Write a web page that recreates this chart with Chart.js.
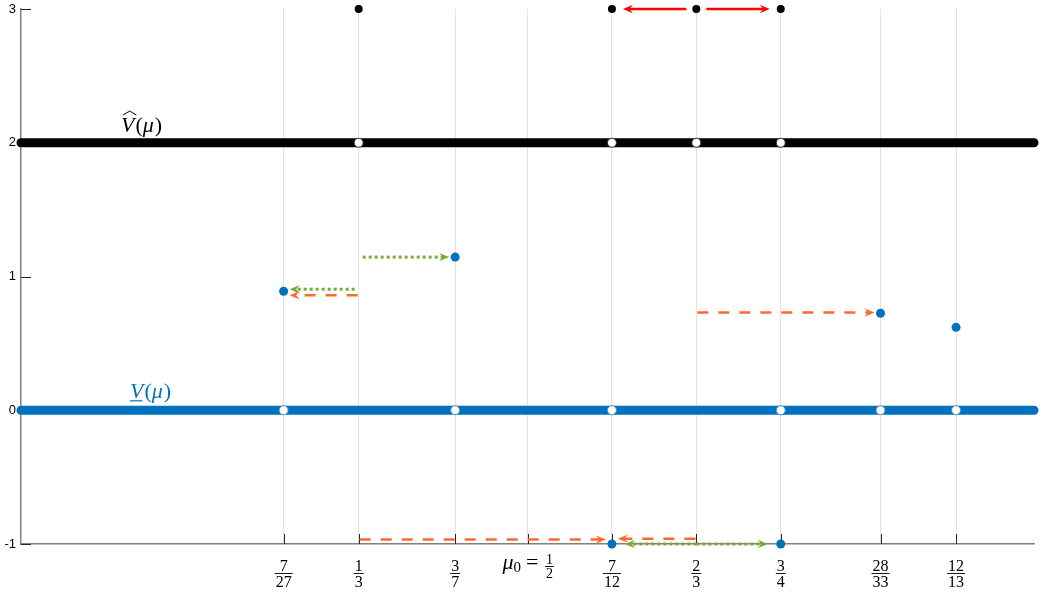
<!DOCTYPE html>
<html lang="en">
<head>
  <meta charset="UTF-8" />
  <title>V hat / V underline</title>
  <script src="https://cdn.jsdelivr.net/npm/chart.js"></script>
  <style>
    body { margin: 0; background: #fff; }
    canvas { display: block; }
  </style>
</head>
<body>
  <canvas id="chart" width="1042" height="594"></canvas>

  <script>
    // --- data ---
    const xTickValues = [7/27, 1/3, 3/7, 1/2, 7/12, 2/3, 3/4, 28/33, 12/13];
    const xTickNum = ["7", "1", "3", "1", "7", "2", "3", "28", "12"];
    const xTickDen = ["27", "3", "7", "2", "12", "3", "4", "33", "13"];
    const xTickPrefix = ["", "", "", "μ0", "", "", "", "", ""];
    const yTickValues = [-1, 0, 1, 2, 3];

    const hatLevel = 2;
    const lowLevel = 0;
    const hatOpenX = [1/3, 7/12, 2/3, 3/4];
    const hatDotX = [1/3, 7/12, 2/3, 3/4];
    const hatDotY = [3, 3, 3, 3];
    const lowOpenX = [7/27, 3/7, 7/12, 3/4, 28/33, 12/13];
    const lowDotX = [7/27, 3/7, 28/33, 12/13, 7/12, 3/4];
    const lowDotY = [0.89, 1.145, 0.725, 0.62, -1, -1];

    // arrows: from -> to at height y
    const arrowFrom = [2/3, 2/3, 1/3, 1/3, 1/3, 2/3, 1/3, 2/3, 2/3, 2/3];
    const arrowTo   = [7/12, 3/4, 3/7, 7/27, 7/27, 28/33, 7/12, 7/12, 7/12, 3/4];
    const arrowY    = [3, 3, 1.145, 0.905, 0.86, 0.73, -0.967, -0.96, -1, -1];
    const arrowKind = ["red", "red", "dotted", "dotted", "dashed", "dashed", "dashed", "dashed", "dottedMid", "dottedMid"];

    const BLACK = "#000000";
    const BLUE = "#0072bd";

    const arrowStyles = {
      red:       { color: "#ff0000", dash: [], width: 2.5, gap0: 10, gap1: 11 },
      dashed:    { color: "#ff6a2c", dash: [11, 10], width: 2.5, gap0: 1, gap1: 6 },
      dotted:    { color: "#77ac30", dash: [3, 3], width: 3, gap0: 4, gap1: 6 },
      dottedMid: { color: "#77ac30", dash: [3, 3], width: 3, gap0: 0, gap1: 13 }
    };

    const pts = (xs, ys) => xs.map((x, i) => ({ x: x, y: Array.isArray(ys) ? ys[i] : ys }));

    // inward tick marks
    const inwardTicks = {
      id: "inwardTicks",
      beforeDatasetsDraw(chart) {
        const { ctx, chartArea: a, scales: { x, y } } = chart;
        ctx.save();
        ctx.strokeStyle = "#262626";
        ctx.lineWidth = 1;
        ctx.beginPath();
        yTickValues.forEach(v => {
          const py = Math.round(y.getPixelForValue(v)) + 0.5;
          ctx.moveTo(a.left, py);
          ctx.lineTo(a.left + 10, py);
        });
        xTickValues.forEach(v => {
          const px = Math.round(x.getPixelForValue(v)) + 0.5;
          ctx.moveTo(px, a.bottom);
          ctx.lineTo(px, a.bottom - 10);
        });
        ctx.stroke();
        ctx.restore();
      }
    };

    function drawHead(ctx, tx, ty, dir, color) {
      const L = 10, H = 4.2, N = 6.5;
      ctx.fillStyle = color;
      ctx.beginPath();
      ctx.moveTo(tx, ty);
      ctx.lineTo(tx - dir * L, ty - H);
      ctx.lineTo(tx - dir * N, ty);
      ctx.lineTo(tx - dir * L, ty + H);
      ctx.closePath();
      ctx.fill();
    }

    // arrows between points
    const arrows = {
      id: "arrows",
      afterDatasetsDraw(chart) {
        const { ctx, scales: { x, y } } = chart;
        ctx.save();
        arrowFrom.forEach((f, i) => {
          const st = arrowStyles[arrowKind[i]];
          const x0 = x.getPixelForValue(f);
          const x1 = x.getPixelForValue(arrowTo[i]);
          const py = y.getPixelForValue(arrowY[i]);
          const dir = x1 > x0 ? 1 : -1;
          const sx = x0 + dir * st.gap0;
          const tx = x1 - dir * st.gap1;
          ctx.strokeStyle = st.color;
          ctx.lineWidth = st.width;
          ctx.setLineDash(st.dash);
          ctx.beginPath();
          ctx.moveTo(sx, py);
          ctx.lineTo(tx - dir * 6, py);
          ctx.stroke();
          ctx.setLineDash([]);
          drawHead(ctx, tx, py, dir, st.color);
        });
        ctx.restore();
      }
    };

    function drawFrac(ctx, cx, numBase, num, den, size) {
      ctx.font = size + "px 'Liberation Serif'";
      ctx.textAlign = "center";
      ctx.textBaseline = "alphabetic";
      const w = Math.max(ctx.measureText(num).width, ctx.measureText(den).width);
      ctx.fillText(num, cx, numBase);
      ctx.fillRect(cx - w / 2 - 1, numBase + 2, w + 2, 0.9);
      ctx.fillText(den, cx, numBase + size);
    }

    // fraction tick labels and series labels
    const texts = {
      id: "texts",
      afterDraw(chart) {
        const { ctx, scales: { x, y } } = chart;
        ctx.save();
        ctx.fillStyle = "#000";
        xTickValues.forEach((v, i) => {
          const px = x.getPixelForValue(v);
          if (!xTickPrefix[i]) {
            drawFrac(ctx, px, 571, xTickNum[i], xTickDen[i], 16);
          } else {
            // mu_0 = 1/2
            let cx = px - 25;
            const base = 569;
            ctx.textAlign = "left";
            ctx.font = "italic 22px 'Liberation Serif'";
            ctx.fillText("μ", cx, base);
            cx += ctx.measureText("μ").width;
            ctx.font = "15px 'Liberation Serif'";
            ctx.fillText("0", cx, base + 3);
            cx += ctx.measureText("0").width + 5;
            ctx.font = "22px 'Liberation Serif'";
            ctx.fillText("=", cx, base);
            cx += ctx.measureText("=").width + 11;
            drawFrac(ctx, cx, 564, xTickNum[i], xTickDen[i], 14);
          }
        });

        drawSeriesLabel(ctx, x.getPixelForValue(0.0987), y.getPixelForValue(2.08), BLACK, "hat");
        drawSeriesLabel(ctx, x.getPixelForValue(0.1076), y.getPixelForValue(0.09), BLUE, "under");
        ctx.restore();
      }
    };

    function drawSeriesLabel(ctx, left, base, color, mark) {
      ctx.fillStyle = color;
      ctx.strokeStyle = color;
      ctx.textAlign = "left";
      ctx.textBaseline = "alphabetic";
      let cx = left;
      ctx.font = "italic 22px 'Liberation Serif'";
      const vw = ctx.measureText("V").width;
      ctx.fillText("V", cx, base);
      ctx.lineWidth = 1;
      if (mark === "hat") {
        ctx.beginPath();
        ctx.moveTo(cx + 2, base - 17);
        ctx.lineTo(cx + vw / 2 + 2, base - 21);
        ctx.lineTo(cx + vw + 2, base - 17);
        ctx.stroke();
      } else {
        ctx.fillRect(cx, base + 2, vw - 1, 1.2);
      }
      cx += vw + 1;
      ctx.font = "22px 'Liberation Serif'";
      ctx.fillText("(", cx, base);
      cx += ctx.measureText("(").width;
      ctx.font = "italic 22px 'Liberation Serif'";
      ctx.fillText("μ", cx, base);
      cx += ctx.measureText("μ").width + 1;
      ctx.font = "22px 'Liberation Serif'";
      ctx.fillText(")", cx, base);
    }

    new Chart(document.getElementById("chart").getContext("2d"), {
      type: "scatter",
      data: {
        datasets: [
          { data: pts(hatDotX, hatDotY), backgroundColor: BLACK, borderColor: BLACK, pointRadius: 4, borderWidth: 0, clip: false },
          { data: pts(lowDotX, lowDotY), backgroundColor: BLUE, borderColor: BLUE, pointRadius: 4.5, borderWidth: 0, clip: false },
          { data: pts(hatOpenX, hatLevel), backgroundColor: "#fff", borderColor: "#333", pointRadius: 4.5, borderWidth: 1, clip: false },
          { data: pts(lowOpenX, lowLevel), backgroundColor: "#fff", borderColor: "#4a8fc4", pointRadius: 4.5, borderWidth: 1, clip: false },
          { type: "line", data: pts([0, 1], hatLevel), borderColor: BLACK, borderWidth: 9, borderCapStyle: "round", pointRadius: 0, clip: false },
          { type: "line", data: pts([0, 1], lowLevel), borderColor: BLUE, borderWidth: 9, borderCapStyle: "round", pointRadius: 0, clip: false }
        ]
      },
      options: {
        responsive: false,
        animation: false,
        layout: { padding: { top: 9, right: 8, left: 0, bottom: 0 } },
        plugins: { legend: { display: false }, tooltip: { enabled: false } },
        scales: {
          x: {
            type: "linear",
            min: 0,
            max: 1,
            afterBuildTicks: s => { s.ticks = xTickValues.map(v => ({ value: v })); },
            afterFit: s => { s.height = 50; s.paddingLeft = 0; s.paddingRight = 0; },
            ticks: { display: false },
            grid: { color: "#e2e2e2", lineWidth: 1, drawTicks: false },
            border: { color: "#808080", width: 1.5 }
          },
          y: {
            min: -1,
            max: 3,
            afterBuildTicks: s => { s.ticks = yTickValues.map(v => ({ value: v })); },
            afterFit: s => { s.width = 21; s.paddingTop = 0; s.paddingBottom = 0; },
            ticks: { padding: 5, color: "#000", font: { family: "'Liberation Sans'", size: 13 } },
            grid: { display: false, drawTicks: false },
            border: { color: "#808080", width: 1.5 }
          }
        }
      },
      plugins: [inwardTicks, arrows, texts]
    });
  </script>
</body>
</html>
